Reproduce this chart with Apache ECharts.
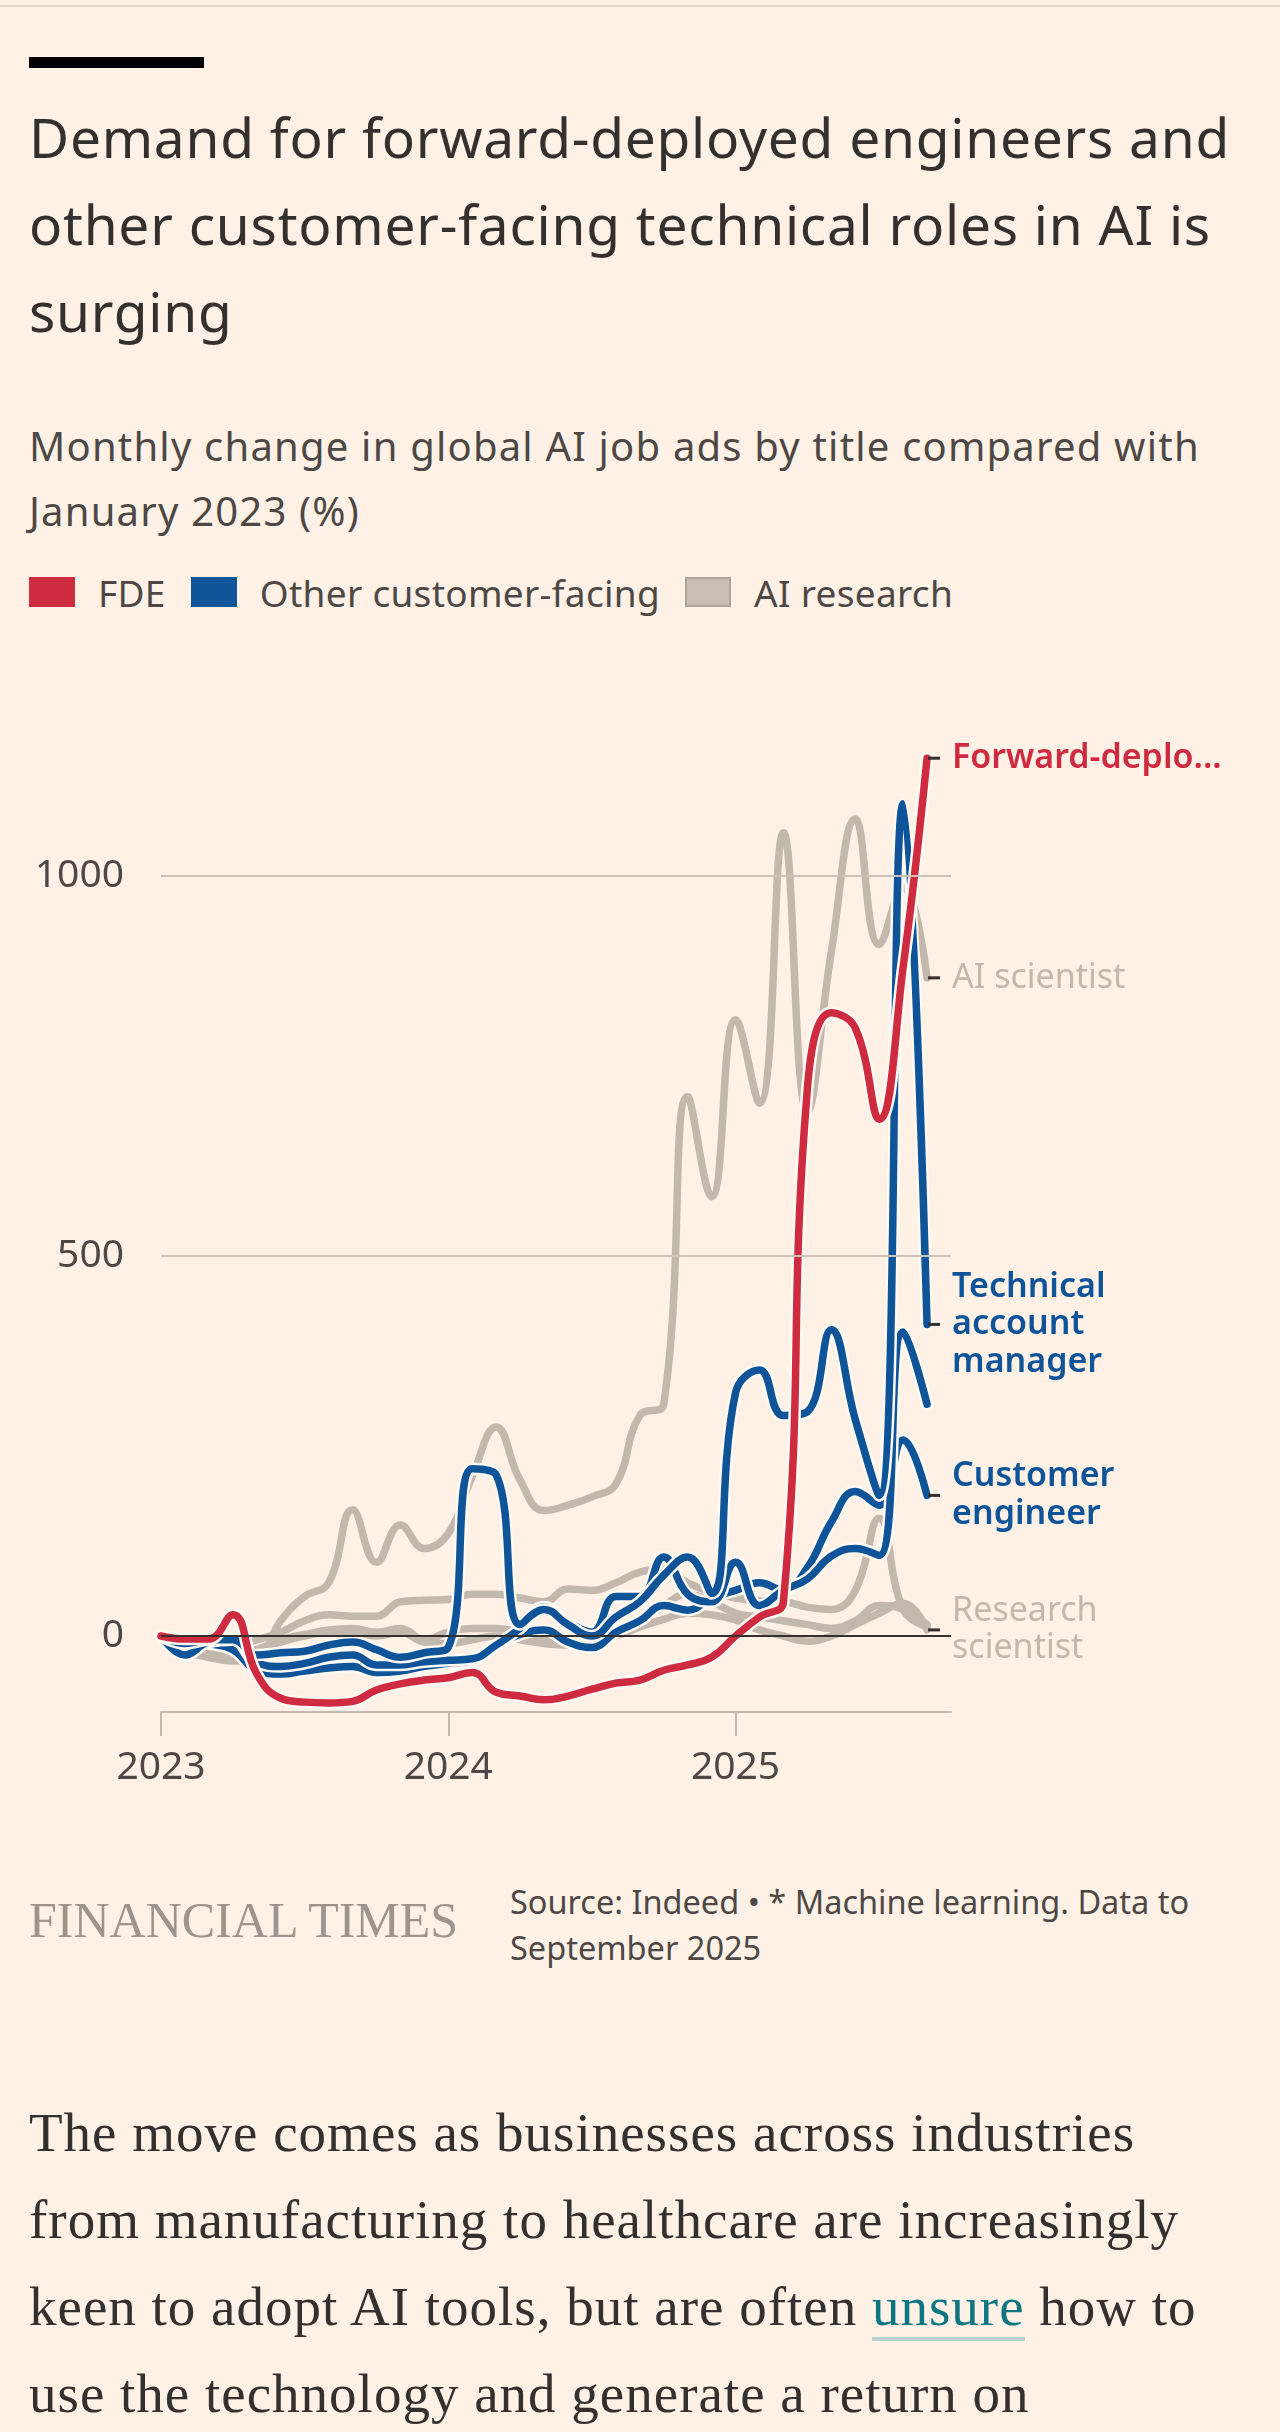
<!DOCTYPE html>
<html>
<head>
<meta charset="utf-8">
<title>Demand for forward-deployed engineers</title>
<script src="https://cdn.jsdelivr.net/npm/echarts@6.0.0/dist/echarts.min.js"></script>
<style>
  html, body { margin: 0; padding: 0; background: #fff1e5; }
  body { width: 1280px; height: 2432px; position: relative; overflow: hidden; font-family: 'Noto Sans', sans-serif; color: #33302e; }
  .rule { position: absolute; left: 0; top: 5px; width: 1280px; height: 2px; background: #e3d5ca; }
  .bar { position: absolute; left: 29px; top: 57px; width: 175px; height: 11px; background: #000; }
  h1 { position: absolute; left: 29px; top: 93px; margin: 0; font-weight: 400; font-size: 55px; letter-spacing: 0.75px; line-height: 87px; white-space: nowrap; }
  .sub { position: absolute; left: 29px; top: 413px; font-size: 40px; letter-spacing: 1.2px; line-height: 65px; color: #4d4845; white-space: nowrap; }
  .legend { position: absolute; left: 29px; top: 577px; height: 30px; display: flex; align-items: center; font-size: 37px; letter-spacing: 0.3px; color: #4d4845; white-space: nowrap; }
  .legend .sw { width: 46px; height: 30px; margin-right: 23px; box-sizing: border-box; }
  .legend .t { margin-right: 25px; }
  #chart { position: absolute; left: 0; top: 640px; width: 1280px; height: 1180px; }
  .ft { position: absolute; left: 29px; top: 1895px; font-family: 'Liberation Serif', serif; font-size: 50px; line-height: 50px; color: #9c948d; white-space: nowrap; }
  .source { position: absolute; left: 510px; top: 1879px; font-size: 32.5px; line-height: 46px; color: #4d4845; white-space: nowrap; }
  .article { position: absolute; left: 29px; top: 2089px; font-family: 'Liberation Serif', serif; font-size: 55px; letter-spacing: 1px; line-height: 87px; color: #33302e; white-space: nowrap; }
  .article a { color: #0d7680; text-decoration: none; border-bottom: 4px solid #b9d0d0; }
</style>
</head>
<body>
<div class="rule"></div>
<div class="bar"></div>
<h1>Demand for forward-deployed engineers and<br>other customer-facing technical roles in AI is<br>surging</h1>
<div class="sub">Monthly change in global AI job ads by title compared with<br>January 2023 (%)</div>
<div class="legend">
  <div class="sw" style="background:#cf2b40"></div><span class="t">FDE</span>
  <div class="sw" style="background:#0f5499"></div><span class="t">Other customer-facing</span>
  <div class="sw" style="background:#c9bfb6;border:2px solid #aca39b"></div><span class="t">AI research</span>
</div>
<div id="chart"></div>
<div class="ft">FINANCIAL TIMES</div>
<div class="source">Source: Indeed • * Machine learning. Data to<br>September 2025</div>
<div class="article">The move comes as businesses across industries<br>from manufacturing to healthcare are increasingly<br>keen to adopt AI tools, but are often <a>unsure</a> how to<br>use the technology and generate a return on</div>

<script>
// months from Jan 2023; the last category has no data, it only pads the axis
const months = [
  '2023-01', '2023-02', '2023-03', '2023-04', '2023-05', '2023-06', '2023-07', '2023-08', '2023-09', '2023-10', '2023-11', '2023-12',
  '2024-01', '2024-02', '2024-03', '2024-04', '2024-05', '2024-06', '2024-07', '2024-08', '2024-09', '2024-10', '2024-11', '2024-12',
  '2025-01', '2025-02', '2025-03', '2025-04', '2025-05', '2025-06', '2025-07', '2025-08', '2025-09', '2025-10'
];
const yearLabels = ['2023', '2024', '2025'];
const yTicks = [0, 500, 1000];

// FDE
const forwardDeployed = [0, -4, -4, 28, -50, -82, -87, -88, -86, -71, -63, -58, -55, -48, -74, -79, -84, -79, -70, -62, -58, -45, -38, -28, 0, 25, 45, 720, 820, 800, 680, 880, 1155];

// other customer-facing
const technicalAccountManager = [0, -10, -5, -5, -25, -22, -20, -12, -8, -18, -28, -22, -15, 220, 212, 15, 35, 15, 0, 25, 45, 80, 104, 56, 320, 350, 290, 295, 403, 285, 185, 1095, 410];
const otherCustomerRole = [0, -25, -8, -5, -35, -40, -36, -28, -25, -38, -38, -34, -32, -30, -12, 10, 38, 18, 5, 52, 52, 104, 55, 45, 97, 40, 60, 75, 105, 115, 106, 400, 305];
const customerEngineer = [0, -5, -10, -18, -45, -50, -46, -42, -40, -48, -46, -40, -36, -32, -12, 2, 8, -8, -15, 5, 20, 40, 34, 50, 60, 70, 60, 90, 150, 190, 172, 258, 185];

// AI research
const aiScientist = [0, -20, -28, -33, -30, 20, 52, 70, 166, 97, 146, 115, 135, 210, 275, 205, 165, 172, 183, 200, 290, 305, 710, 578, 811, 701, 1057, 690, 900, 1075, 910, 985, 866];
const mlScientist = [0, -5, -10, -15, -5, 5, 20, 28, 26, 26, 45, 47, 48, 55, 55, 50, 45, 62, 60, 70, 84, 88, 70, 58, 50, 46, 45, 38, 35, 60, 155, 35, 12];
const otherResearchRole = [0, -12, -20, -25, -18, -5, 2, 8, 10, 5, 10, -5, 5, 10, 10, 5, -5, -10, -5, 5, 20, 40, 55, 45, 30, 25, 20, 15, 10, 20, 40, 35, 15];
const researchScientist = [0, -15, -22, -26, -20, -8, 0, 5, 5, 0, 5, -8, -10, -5, 0, -5, -10, -12, -8, 0, 12, 22, 30, 28, 21, 8, 0, -7, 0, 15, 30, 43, 8];

const RED = '#cf2b40';
const BLUE = '#0f5499';
const GREY = '#c3b8ae';
const HALO = '#fff9f3';
const FONT = "'Noto Sans', sans-serif";
const LINE_W = 7.5;

// small black tick between the end of a line and its label
function endTick(data) {
  const last = data.length - 1;
  return {
    silent: true,
    symbol: 'rect',
    symbolSize: [12, 3],
    symbolOffset: [7, 0],
    itemStyle: { color: '#33302e' },
    label: { show: false },
    data: [{ coord: [months[last], data[last]] }]
  };
}

function line(name, data, color, width, label, bold) {
  const s = {
    name: name,
    type: 'line',
    data: data,
    smooth: 0.45,
    symbol: 'none',
    silent: true,
    lineStyle: { color: color, width: width, cap: 'round', join: 'round' }
  };
  if (label) {
    s.endLabel = {
      show: true,
      formatter: label,
      color: color,
      fontFamily: FONT,
      fontSize: 34,
      fontWeight: bold ? 600 : 400,
      lineHeight: 37.5,
      distance: 25,
      align: 'left',
      verticalAlign: 'middle'
    };
    s.markPoint = endTick(data);
  }
  return s;
}

function halo(data) {
  return {
    type: 'line',
    data: data,
    smooth: 0.45,
    symbol: 'none',
    silent: true,
    lineStyle: { color: HALO, width: LINE_W + 5, cap: 'round', join: 'round' }
  };
}

const series = [
  line('Other AI research', otherResearchRole, GREY, LINE_W),
  line('Machine learning scientist*', mlScientist, GREY, LINE_W),
  line('Research scientist', researchScientist, GREY, LINE_W, 'Research\nscientist'),
  line('AI scientist', aiScientist, GREY, LINE_W, 'AI scientist'),
  halo(customerEngineer),
  line('Customer engineer', customerEngineer, BLUE, LINE_W, 'Customer\nengineer', true),
  halo(otherCustomerRole),
  line('Other customer-facing role', otherCustomerRole, BLUE, LINE_W),
  halo(technicalAccountManager),
  line('Technical account manager', technicalAccountManager, BLUE, LINE_W, 'Technical\naccount\nmanager', true),
  halo(forwardDeployed),
  line('Forward-deployed engineer', forwardDeployed, RED, LINE_W, 'Forward-deplo...', true)
];

// grid lines under everything, zero line above the grey lines
series[0].markLine = {
  silent: true,
  symbol: 'none',
  label: { show: false },
  lineStyle: { color: '#cdc2b8', width: 2, type: 'solid' },
  data: yTicks.filter(v => v !== 0).map(v => ({ yAxis: v }))
};
series[3].markLine = {
  silent: true,
  symbol: 'none',
  label: { show: false },
  lineStyle: { color: '#33302e', width: 2, type: 'solid' },
  data: [{ yAxis: 0 }]
};

const isYearStart = (index) => index % 12 === 0;

const chart = echarts.init(document.getElementById('chart'), null, { renderer: 'canvas' });

const option = {
  animation: false,
  backgroundColor: 'transparent',
  textStyle: { fontFamily: FONT },
  grid: { left: 161, right: 329, top: 84, bottom: 108 },
  xAxis: {
    type: 'category',
    data: months,
    boundaryGap: false,
    axisLine: { onZero: false, lineStyle: { color: '#c4b9af', width: 2 } },
    axisTick: { show: true, interval: isYearStart, length: 24, lineStyle: { color: '#c4b9af', width: 2 } },
    axisLabel: {
      interval: isYearStart,
      margin: 36,
      fontSize: 39,
      color: '#4d4845',
      fontFamily: FONT,
      formatter: (value, index) => yearLabels[index / 12]
    },
    splitLine: { show: false }
  },
  yAxis: {
    type: 'value',
    min: -100,
    max: 1200,
    interval: 100,
    axisLine: { show: false },
    axisTick: { show: false },
    splitLine: { show: false },
    axisLabel: {
      margin: 37,
      fontSize: 39,
      color: '#4d4845',
      fontFamily: FONT,
      formatter: (v) => yTicks.includes(v) ? String(v) : ''
    }
  },
  series: series
};

chart.setOption(option);

window.addEventListener('resize', () => {
  chart.resize();
});
</script>
</body>
</html>
